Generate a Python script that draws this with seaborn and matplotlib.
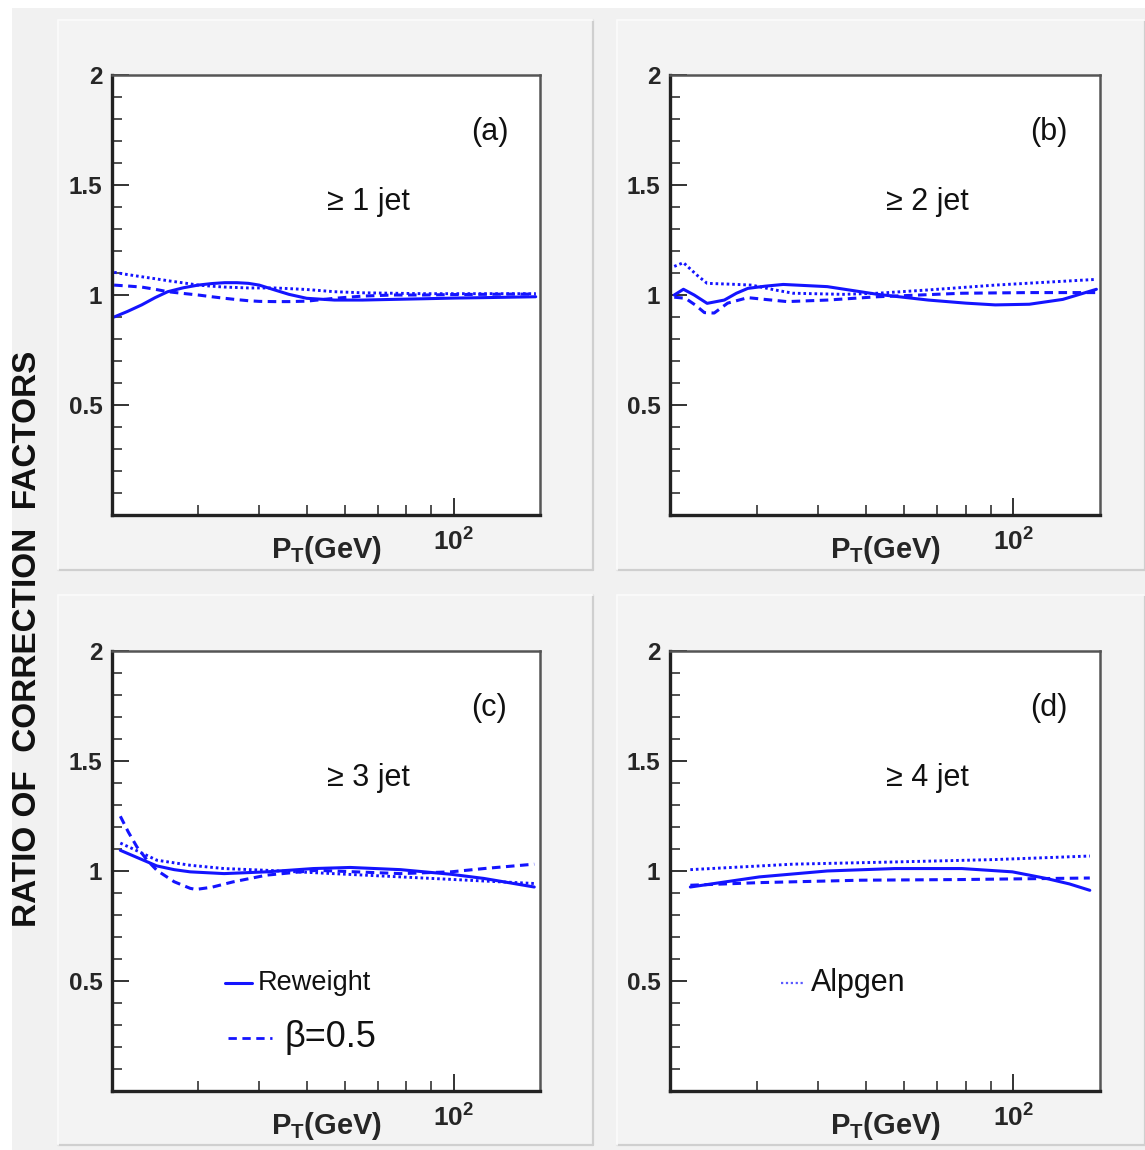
import matplotlib
matplotlib.use("Agg")
import numpy as np
import pandas as pd
import seaborn as sns
import matplotlib.pyplot as plt
from matplotlib.patches import Rectangle
from matplotlib.lines import Line2D
from matplotlib.ticker import FixedLocator, NullFormatter, MultipleLocator

# ---------------- data ----------------
# panel (a)  >= 1 jet
pt_a = [20.2, 21.5, 23, 24.5, 26, 28, 30, 32, 34, 36, 38, 40, 43, 46, 50, 57, 65, 75, 87, 100, 115, 130, 147]
rew_a = [0.90, 0.925, 0.955, 0.988, 1.015, 1.033, 1.045, 1.052, 1.056, 1.056, 1.053, 1.045, 1.023, 1.003, 0.985,
         0.977, 0.977, 0.98, 0.983, 0.986, 0.988, 0.99, 0.992]
beta_a = [1.045, 1.041, 1.036, 1.026, 1.015, 1.007, 1.0, 0.992, 0.985, 0.979, 0.974, 0.971, 0.97, 0.97, 0.972,
          0.985, 0.995, 1.0, 1.0, 1.002, 1.003, 1.004, 1.004]
alp_a = [1.103, 1.093, 1.083, 1.074, 1.065, 1.055, 1.045, 1.04, 1.036, 1.034, 1.032, 1.032, 1.032, 1.029, 1.025,
         1.015, 1.01, 1.008, 1.006, 1.006, 1.006, 1.006, 1.006]

# panel (b)  >= 2 jet
rew_b_pt = [20.4, 21.3, 22.4, 23.8, 25.8, 27.3, 28.8, 31.2, 34.0, 41.8, 52.9, 67.1, 80, 91.8, 107.7, 126, 147.5]
rew_b = [1.0, 1.026, 1.0, 0.962, 0.977, 1.008, 1.03, 1.04, 1.048, 1.038, 1.003, 0.977, 0.963, 0.955, 0.958, 0.98,
         1.026]
beta_b_pt = [20.4, 21.5, 22.5, 23.5, 24.6, 26.2, 28.8, 31.2, 34.6, 41.8, 52.9, 78.5, 107.7, 147.5]
beta_b = [0.99, 0.985, 0.955, 0.92, 0.918, 0.963, 0.988, 0.98, 0.97, 0.977, 0.992, 1.008, 1.011, 1.011]
alp_b_pt = [20.4, 21.3, 22.7, 23.8, 26.7, 29.3, 32.7, 35.6, 45.1, 52.9, 67.1, 91.8, 147.5]
alp_b = [1.13, 1.147, 1.09, 1.053, 1.049, 1.045, 1.023, 1.008, 1.003, 1.008, 1.023, 1.045, 1.071]

# panel (c)  >= 3 jet
rew_c_pt = [20.8, 22.8, 24.7, 26.8, 28.9, 33.9, 41.4, 51.6, 61.4, 77.8, 98.6, 115.2, 146]
rew_c = [1.093, 1.055, 1.022, 1.005, 0.995, 0.987, 0.995, 1.01, 1.015, 1.005, 0.984, 0.965, 0.926]
beta_c_pt = [20.8, 21.6, 22.5, 23.6, 24.7, 26.8, 28.9, 29.7, 32.0, 35.3, 41.4, 52.4, 77.8, 98.6, 115.2, 146]
beta_c = [1.248, 1.176, 1.108, 1.048, 1.002, 0.95, 0.92, 0.915, 0.925, 0.949, 0.98, 1.002, 0.987, 0.995, 1.01, 1.03]
alp_c_pt = [20.8, 22.8, 24.7, 28.9, 33.9, 41.4, 56.6, 77.8, 106.7, 146]
alp_c = [1.126, 1.085, 1.048, 1.025, 1.01, 1.002, 0.987, 0.972, 0.957, 0.942]

# panel (d)  >= 4 jet
rew_d_pt = [22.0, 30.4, 41.8, 57.3, 78.5, 99.5, 116.6, 130, 143]
rew_d = [0.926, 0.972, 0.999, 1.01, 1.01, 0.995, 0.965, 0.94, 0.911]
beta_d_pt = [22.0, 30.4, 48.9, 78.5, 143]
beta_d = [0.934, 0.946, 0.957, 0.96, 0.967]
alp_d_pt = [22.0, 35.6, 57.3, 91.9, 143]
alp_d = [1.005, 1.03, 1.04, 1.051, 1.067]

panel_tags = ["(a)", "(b)", "(c)", "(d)"]
jet_labels = ["\u2265 1 jet", "\u2265 2 jet", "\u2265 3 jet", "\u2265 4 jet"]
y_ticks = [0.5, 1.0, 1.5, 2.0]
y_tick_labels = ["0.5", "1", "1.5", "2"]
x_minor = [30, 40, 50, 60, 70, 80, 90]
legend_labels = ["Reweight", "\u03b2=0.5", "Alpgen"]

# ---------------- styling ----------------
sns.set_style("ticks")
plt.rcParams['font.family'] = ['Liberation Sans', 'DejaVu Sans']
plt.rcParams['mathtext.fontset'] = 'custom'
plt.rcParams['mathtext.rm'] = 'Liberation Sans'
plt.rcParams['mathtext.bf'] = 'Liberation Sans:bold'
plt.rcParams['mathtext.it'] = 'Liberation Sans:italic'

BLUE = "#1414ff"
W, H = 1145, 1150
fig = plt.figure(figsize=(W / 100, H / 100), dpi=100, facecolor="white")


def frac_rect(x0, y0, x1, y1):
    return [x0 / W, 1 - y1 / H, (x1 - x0) / W, (y1 - y0) / H]


# canvas background
fig.patches.append(Rectangle((12 / W, 0), (W - 12) / W, (H - 8) / H, transform=fig.transFigure,
                             facecolor="#f1f1f1", edgecolor="none", zorder=-20))
pads = [(58, 20, 593, 570), (617, 20, 1145, 570), (58, 595, 593, 1145), (617, 595, 1145, 1145)]
for (x0, y0, x1, y1) in pads:
    fig.patches.append(Rectangle((x0 / W, 1 - y1 / H), (x1 - x0) / W, (y1 - y0) / H,
                                 transform=fig.transFigure, facecolor="#f3f3f3",
                                 edgecolor="none", zorder=-19))
    fig.lines.append(Line2D([x1 / W, x1 / W], [1 - y1 / H, 1 - y0 / H], transform=fig.transFigure,
                            color="#cfcfcf", lw=1.6, zorder=-18))
    fig.lines.append(Line2D([x0 / W, x1 / W], [1 - y1 / H, 1 - y1 / H], transform=fig.transFigure,
                            color="#cfcfcf", lw=1.6, zorder=-18))
    fig.lines.append(Line2D([x0 / W, x0 / W], [1 - y1 / H, 1 - y0 / H], transform=fig.transFigure,
                            color="#fbfbfb", lw=1.2, zorder=-18))
    fig.lines.append(Line2D([x0 / W, x1 / W], [1 - y0 / H, 1 - y0 / H], transform=fig.transFigure,
                            color="#fbfbfb", lw=1.2, zorder=-18))

axes_px = [(112, 75, 540, 515), (670, 75, 1100, 515), (112, 651, 540, 1090.5), (670, 651, 1100, 1090.5)]
series = [
    [(pt_a, rew_a), (pt_a, beta_a), (pt_a, alp_a)],
    [(rew_b_pt, rew_b), (beta_b_pt, beta_b), (alp_b_pt, alp_b)],
    [(rew_c_pt, rew_c), (beta_c_pt, beta_c), (alp_c_pt, alp_c)],
    [(rew_d_pt, rew_d), (beta_d_pt, beta_d), (alp_d_pt, alp_d)],
]
styles = [dict(linestyle="-", lw=2.2),
          dict(linestyle=(0, (2.8, 1.8)), lw=2.2),
          dict(linestyle=(0, (0.9, 1.0)), lw=2.1)]

axes = []
for i, rect in enumerate(axes_px):
    ax = fig.add_axes(frac_rect(*rect))
    ax.set_facecolor("white")
    for (xs, ys), st in zip(series[i], styles):
        df = pd.DataFrame({"pt": xs, "ratio": ys})
        sns.lineplot(data=df, x="pt", y="ratio", ax=ax, color=BLUE, errorbar=None,
                     sort=True, **st)
    ax.set_xscale("log")
    ax.set_xlim(20, 150)
    ax.set_ylim(0, 2)
    ax.set_xlabel("")
    ax.set_ylabel("")
    ax.set_yticks(y_ticks)
    ax.set_yticklabels(y_tick_labels, fontsize=17.5, fontweight="bold")
    ax.yaxis.set_minor_locator(MultipleLocator(0.1))
    ax.xaxis.set_major_locator(FixedLocator([100]))
    ax.set_xticklabels([r"$\mathbf{10^{2}}$"], fontsize=19)
    ax.xaxis.set_minor_locator(FixedLocator(x_minor))
    ax.xaxis.set_minor_formatter(NullFormatter())
    ax.tick_params(axis="both", which="major", direction="in", length=12, width=1.4,
                   top=False, right=False, color="#333333")
    ax.tick_params(axis="both", which="minor", direction="in", length=7, width=1.2,
                   top=False, right=False, color="#333333")
    ax.tick_params(axis="y", which="major", pad=7)
    ax.tick_params(axis="x", which="major", pad=10)
    for s in ["left", "bottom"]:
        ax.spines[s].set_linewidth(2.4)
        ax.spines[s].set_color("#222222")
    for s in ["top", "right"]:
        ax.spines[s].set_linewidth(1.8)
        ax.spines[s].set_color("#555555")
    ax.text(0.502, -0.080, r"$\mathbf{P_{T}(GeV)}$", transform=ax.transAxes,
            ha="center", va="center", fontsize=21)
    ax.text(0.882, 0.871, panel_tags[i], transform=ax.transAxes, ha="center", va="center",
            fontsize=22, color="#111111")
    ax.text(0.598, 0.711, jet_labels[i], transform=ax.transAxes, ha="center", va="center",
            fontsize=22, color="#111111")
    axes.append(ax)

# legends (split between panels c and d)
axc, axd = axes[2], axes[3]
axc.plot([0.264, 0.327], [0.2446, 0.2446], transform=axc.transAxes, color=BLUE, lw=2.2)
axc.text(0.341, 0.2446, legend_labels[0], transform=axc.transAxes, ha="left", va="center",
         fontsize=19.5, color="#111111")
axc.plot([0.271, 0.374], [0.1195, 0.1195], transform=axc.transAxes, color=BLUE, lw=2.0,
         linestyle=(0, (3.0, 2.0)))
axc.text(0.404, 0.1195, legend_labels[1], transform=axc.transAxes, ha="left", va="center",
         fontsize=26, color="#111111")
axd.plot([0.258, 0.309], [0.2446, 0.2446], transform=axd.transAxes, color="#5a5aff", lw=1.6,
         linestyle=(0, (1.0, 1.2)))
axd.text(0.328, 0.2446, legend_labels[2], transform=axd.transAxes, ha="left", va="center",
         fontsize=22, color="#111111")

fig.text(28 / W, 1 - 639 / H, "RATIO OF  CORRECTION  FACTORS", rotation=90, ha="center",
         va="center", fontsize=24, fontweight="bold", color="#111111")

fig.savefig("out.png", dpi=100, facecolor=fig.get_facecolor())
